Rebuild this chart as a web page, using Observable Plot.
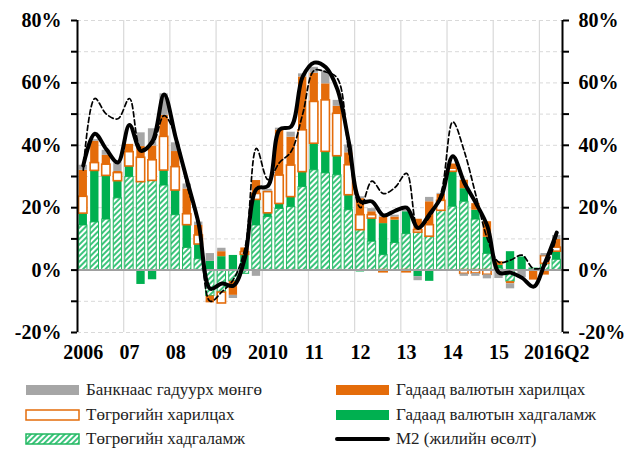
<!DOCTYPE html>
<html><head><meta charset="utf-8">
<script src="https://cdn.jsdelivr.net/npm/d3@7"></script>
<script src="https://cdn.jsdelivr.net/npm/@observablehq/plot@0.6"></script>
<style>
body{margin:0;background:#fff;}
#wrap{position:relative;width:630px;height:450px;overflow:hidden;background:#fff;font-family:"Liberation Serif","Times New Roman",serif;}
#legend{position:absolute;left:0;top:378px;width:630px;font-size:17px;color:#222;}
.item{position:absolute;display:flex;align-items:center;height:24px;white-space:nowrap;}
.item svg{margin-right:6px;}
</style></head>
<body><div id="wrap"><div id="chart"></div><div id="legend"></div></div>
<script>
// ---- data ----
const quarters = [
 "2006Q1","2006Q2","2006Q3","2006Q4","2007Q1","2007Q2","2007Q3","2007Q4",
 "2008Q1","2008Q2","2008Q3","2008Q4","2009Q1","2009Q2","2009Q3","2009Q4",
 "2010Q1","2010Q2","2010Q3","2010Q4","2011Q1","2011Q2","2011Q3","2011Q4",
 "2012Q1","2012Q2","2012Q3","2012Q4","2013Q1","2013Q2","2013Q3","2013Q4",
 "2014Q1","2014Q2","2014Q3","2014Q4","2015Q1","2015Q2","2015Q3","2015Q4",
 "2016Q1","2016Q2"];
const tickQuarters = ["2006Q1","2007Q1","2008Q1","2009Q1","2010Q1","2011Q1","2012Q1","2013Q1","2014Q1","2015Q1","2016Q2"];
const tickLabels = ["2006","07","08","09","2010","11","12","13","14","15","2016Q2"];
const yTickValues = [-20,-10,0,10,20,30,40,50,60,70,80];
const yTickLabels = ["-20%","","0%","","20%","","40%","","60%","","80%"];

const seriesNames = ["Төгрөгийн хадгаламж","Гадаад валютын хадгаламж","Төгрөгийн харилцах","Гадаад валютын харилцах","Банкнаас гадуурх мөнгө"];
const mntDeposits = [14.3,15.3,16.2,23,29.8,28.2,28.6,27.1,17.6,7.1,3.5,-8.3,-7.2,-3.6,-1.2,14.3,17,19.6,20.2,26.6,32,31,30.4,19.2,12.8,9.1,4.8,8.7,11.5,12,10.7,19,20.3,21.9,16.2,5.2,0.5,-3.7,0,0.5,2,3.3];
const fxDeposits  = [3.8,16.5,14,5.5,3.4,-4.6,-3.1,4.8,7.9,7.3,4.7,2.8,4.3,4.7,4.9,8.2,1.2,1.6,3.2,4.8,8.5,6.9,6.1,4.8,-0.6,7.4,10.1,7.3,7.2,-2.1,-3.6,0,11.2,4.2,3,5.3,1,5.9,4.2,0,0,2.6];
const mntCurrent  = [5.4,2.5,3.6,2.6,4.6,7.8,6.6,10.8,7.5,3.5,2.9,0,-3.5,0,0.8,1.9,6.8,9.1,10.1,13.4,13.4,16.5,13.6,9.6,4.8,1.1,-0.7,0,-0.7,0.8,3.7,3.2,1,-1.2,-1.1,-1.5,0,0,0,0,2.5,1.3];
const fxCurrent   = [8.5,7,3,0.5,2.5,3.6,4.6,6.9,5,8.1,3.2,-2.2,1.6,-4.5,1.4,4.3,0.3,14.6,9.1,17.1,9.2,5.3,2.4,4,5.3,1.1,2.1,1,0,3.5,7.5,2.1,1.5,2.7,2.1,5,1.2,-0.7,0,-3.2,-1.6,2.6];
const cashOutside = [1.6,0.5,1.6,3,0,4.4,5.5,6.9,2.8,1.6,1.1,2.5,1.1,-1,0,-2,0.6,0.6,1.6,1,1.9,4.3,1.9,2.5,0.6,1,0.5,0.6,0.5,-1.3,1.4,0.3,0,-0.8,-0.9,-1.3,-2.7,-1.6,-2.5,0,0.8,1.3];
const m2Growth    = [33.5,43.7,38.7,34.5,46.5,38.2,41.4,56.3,42.5,28.6,14.7,-6,-4.3,-5,4,26,27,45,46,62,66.5,65,58,41,22,22,17.5,19,20,13.5,18,23.5,36.5,28,21.5,14,-0.8,-0.8,-2.5,-5.3,2.5,12];
const dashedSeries= [32,55,50,48.5,55,39,40.5,49.5,43,27,14,-10,-7,-3,7,39,29,34.5,38,50,64,63.5,61.5,38,20,28.5,24.5,26.5,31,13.5,17,25,47.5,38,24,10,2.5,3.2,4.8,0.5,1.5,11];
const m2Label = "M2 (жилийн өсөлт)";

// ---- styles ----
const fillOf = {
 "Төгрөгийн хадгаламж":"url(#hatch)",
 "Гадаад валютын хадгаламж":"#00b050",
 "Төгрөгийн харилцах":"#ffffff",
 "Гадаад валютын харилцах":"#e46c0a",
 "Банкнаас гадуурх мөнгө":"#a6a6a6"};
const strokeOf = {
 "Төгрөгийн хадгаламж":"#22b860",
 "Гадаад валютын хадгаламж":"none",
 "Төгрөгийн харилцах":"#e46c0a",
 "Гадаад валютын харилцах":"none",
 "Банкнаас гадуурх мөнгө":"none"};
const strokeWOf = {
 "Төгрөгийн хадгаламж":1,
 "Гадаад валютын хадгаламж":0,
 "Төгрөгийн харилцах":1.6,
 "Гадаад валютын харилцах":0,
 "Банкнаас гадуурх мөнгө":0};

const seriesValues = [mntDeposits, fxDeposits, mntCurrent, fxCurrent, cashOutside];
const stacked = [];
quarters.forEach((q, i) => {
  seriesNames.forEach((s, k) => stacked.push({q: i, series: s, value: seriesValues[k][i]}));
});
const m2Data = quarters.map((q, i) => ({q: i + 0.5, v: m2Growth[i]}));
const dashData = quarters.map((q, i) => ({q: i + 0.5, v: dashedSeries[i]}));
const yearStarts = quarters.map((q, i) => q.endsWith("Q1") ? i : null).filter(d => d !== null);
const xTicks = tickQuarters.map(q => quarters.indexOf(q) + 0.5);
const xLabelOf = new Map(xTicks.map((t, k) => [t, tickLabels[k]]));
const yLabelOf = new Map(yTickValues.map((t, k) => [t, yTickLabels[k]]));

const chart = Plot.plot({
  width: 630, height: 365,
  marginLeft: 77, marginRight: 68, marginTop: 20, marginBottom: 33,
  style: {fontFamily: "'Liberation Serif','Times New Roman',serif", fontSize: "20px", fontWeight: "bold", color: "#000", background: "white"},
  x: {type: "linear", domain: [0, quarters.length]},
  y: {domain: [-20, 80]},
  color: {type: "identity"},
  marks: [
    Plot.ruleY(yTickValues.filter(d => d !== 0), {stroke: "#d9d9d9", strokeDasharray: "4,3", strokeWidth: 1}),
    Plot.ruleX(yearStarts.filter(d => d > 0), {stroke: "#d9d9d9", strokeWidth: 1.2}),
    Plot.rectY(stacked, {x1: "q", x2: d => d.q + 1, y: "value",
      fill: d => fillOf[d.series], stroke: d => strokeOf[d.series], strokeWidth: d => strokeWOf[d.series],
      insetLeft: 1.6, insetRight: 1.6}),
    Plot.ruleY([0], {stroke: "#a0a0a0", strokeWidth: 2}),
    Plot.line(dashData, {x: "q", y: "v", curve: "catmull-rom", stroke: "#000", strokeWidth: 1.7, strokeDasharray: "5,3"}),
    Plot.line(m2Data, {x: "q", y: "v", curve: "catmull-rom", stroke: "#000", strokeWidth: 4}),
    Plot.ruleX([0, quarters.length], {stroke: "#000", strokeWidth: 2}),
    Plot.axisY(yTickValues, {anchor: "left", tickSize: 6, tickPadding: 10, tickFormat: d => yLabelOf.get(d), label: null, strokeWidth: 2}),
    Plot.axisY(yTickValues, {anchor: "right", tickSize: 6, tickPadding: 10, tickFormat: d => yLabelOf.get(d), label: null, strokeWidth: 2}),
    Plot.axisX(xTicks, {anchor: "bottom", tickSize: 0, tickPadding: 12, tickFormat: d => xLabelOf.get(d), label: null})
  ]
});

// hatch pattern definition
const defs = d3.select(chart).insert("defs", ":first-child");
const pat = defs.append("pattern").attr("id", "hatch").attr("patternUnits", "userSpaceOnUse")
  .attr("width", 4).attr("height", 4).attr("patternTransform", "rotate(45)");
pat.append("rect").attr("width", 4).attr("height", 4).attr("fill", "#ffffff");
pat.append("rect").attr("width", 2).attr("height", 4).attr("fill", "#3cc47c");
document.getElementById("chart").appendChild(chart);

// legend
const legendItems = [
  {label: "Банкнаас гадуурх мөнгө", kind: "rect", fill: fillOf["Банкнаас гадуурх мөнгө"], stroke: "none", col: 0, row: 0},
  {label: "Гадаад валютын харилцах", kind: "rect", fill: fillOf["Гадаад валютын харилцах"], stroke: "none", col: 1, row: 0},
  {label: "Төгрөгийн харилцах", kind: "rect", fill: "#fff", stroke: "#e46c0a", col: 0, row: 1},
  {label: "Гадаад валютын хадгаламж", kind: "rect", fill: fillOf["Гадаад валютын хадгаламж"], stroke: "none", col: 1, row: 1},
  {label: "Төгрөгийн хадгаламж", kind: "rect", fill: "url(#hatch)", stroke: "#22b860", col: 0, row: 2},
  {label: m2Label, kind: "line", col: 1, row: 2}
];
const colX = [25, 335];
const legend = document.getElementById("legend");
legendItems.forEach(it => {
  const div = document.createElement("div");
  div.className = "item";
  div.style.left = colX[it.col] + "px";
  div.style.top = (it.row * 24.5) + "px";
  const sw = it.kind === "line"
    ? `<svg width="55" height="12"><line x1="2" y1="6" x2="53" y2="6" stroke="#000" stroke-width="4" stroke-linecap="round"/></svg>`
    : `<svg width="55" height="12"><rect x="1" y="1" width="53" height="10" fill="${it.fill}" stroke="${it.stroke}" stroke-width="${it.stroke === "none" ? 0 : 1.5}"/></svg>`;
  div.innerHTML = sw + `<span>${it.label}</span>`;
  legend.appendChild(div);
});
</script></body></html>
